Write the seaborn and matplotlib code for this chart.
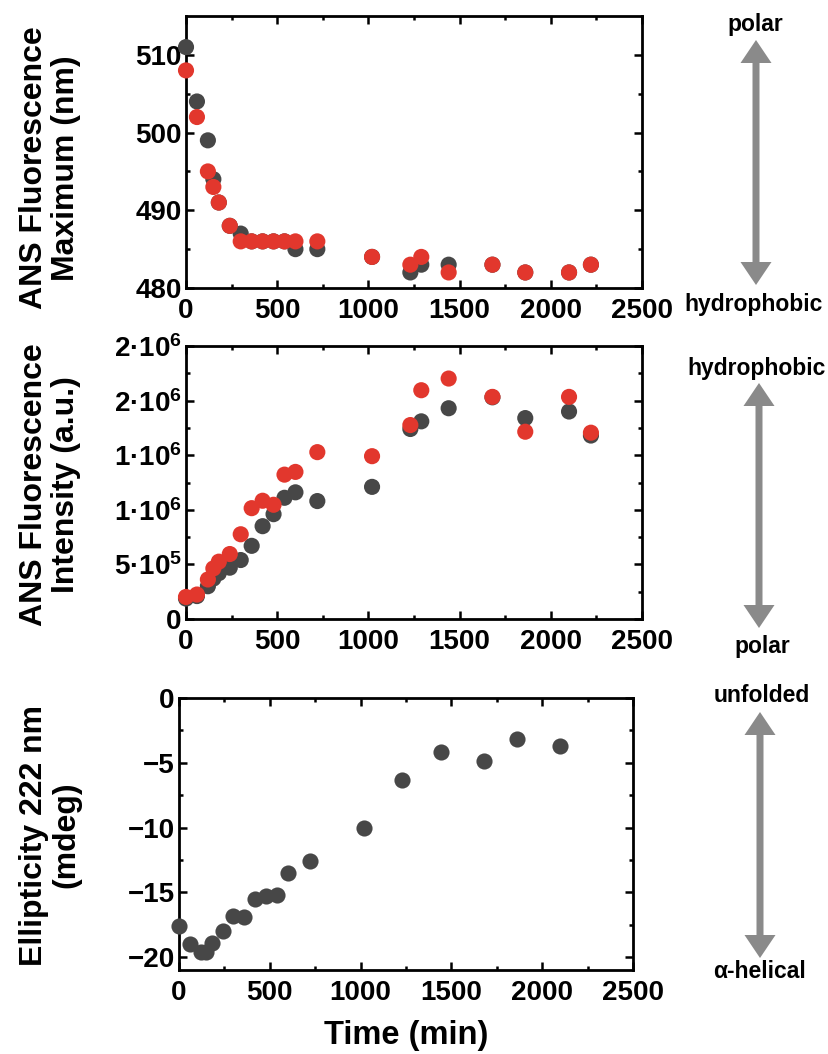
import matplotlib
matplotlib.use("Agg")
import matplotlib.pyplot as plt
import numpy as np
import pandas as pd
import seaborn as sns
from matplotlib.patches import Polygon
from matplotlib.ticker import MultipleLocator, FixedLocator, FixedFormatter

# ANS fluorescence time course (min)
time_ans = [0, 60, 120, 150, 180, 240, 300, 360, 420, 480, 540, 600, 720,
            1020, 1230, 1290, 1440, 1680, 1860, 2100, 2220]
max_gray = [511, 504, 499, 494, 491, 488, 487, 486, 486, 486, 486, 485, 485,
            484, 482, 483, 483, 483, 482, 482, 483]
max_red = [508, 502, 495, 493, 491, 488, 486, 486, 486, 486, 486, 486, 486,
           484, 483, 484, 482, 483, 482, 482, 483]
int_gray = [1.87e5, 2.10e5, 3.00e5, 3.70e5, 4.20e5, 4.70e5, 5.40e5, 6.70e5,
            8.50e5, 9.60e5, 1.11e6, 1.16e6, 1.08e6, 1.21e6, 1.74e6, 1.81e6,
            1.93e6, 2.03e6, 1.84e6, 1.90e6, 1.68e6]
int_red = [2.02e5, 2.24e5, 3.62e5, 4.63e5, 5.25e5, 5.95e5, 7.76e5, 1.015e6,
           1.083e6, 1.046e6, 1.322e6, 1.347e6, 1.528e6, 1.491e6, 1.776e6,
           2.095e6, 2.202e6, 2.034e6, 1.715e6, 2.034e6, 1.706e6]

# CD ellipticity at 222 nm
time_cd = [0, 60, 120, 150, 180, 240, 300, 360, 420, 480, 540, 600, 720,
           1020, 1230, 1440, 1680, 1860, 2100]
ellip = [-17.6, -19.0, -19.6, -19.6, -18.9, -18.0, -16.8, -16.9, -15.5,
         -15.3, -15.2, -13.5, -12.6, -10.0, -6.3, -4.2, -4.9, -3.2, -3.7]

int_ticks = [0, 5e5, 1e6, 1.5e6, 2e6, 2.5e6]
int_ticklabels = ["0", "$5·10^{5}$", "$1·10^{6}$", "$1·10^{6}$",
                  "$2·10^{6}$", "$2·10^{6}$"]

GRAY = "#474747"
RED = "#e2372d"
ARROW = "#8a8a8a"

sns.set_theme(style="ticks")
plt.rcParams["font.family"] = ["Liberation Sans", "DejaVu Sans"]
plt.rcParams["font.weight"] = "bold"
plt.rcParams["axes.labelweight"] = "bold"
plt.rcParams["mathtext.default"] = "regular"
for k in ["text.color", "axes.labelcolor", "xtick.color", "ytick.color",
          "axes.edgecolor"]:
    plt.rcParams[k] = "black"

W, H = 829, 1054
fig = plt.figure(figsize=(W / 100, H / 100), dpi=100)

# pixel-space layer for the side arrows and their captions
ov = fig.add_axes([0, 0, 1, 1])
ov.set_xlim(0, W)
ov.set_ylim(H, 0)
ov.axis("off")


def px_axes(l, t, r, b):
    return fig.add_axes([l / W, 1 - b / H, (r - l) / W, (b - t) / H])


ax1 = px_axes(186, 16, 642, 288)
ax2 = px_axes(186, 346, 642, 619)
ax3 = px_axes(179, 698, 633, 970)


def long_form(t, a, b):
    return pd.DataFrame({
        "time": list(t) + list(t),
        "value": list(a) + list(b),
        "series": ["gray"] * len(t) + ["red"] * len(t),
    })


MS = 135
pal = {"gray": GRAY, "red": RED}
sns.scatterplot(data=long_form(time_ans, max_gray, max_red), x="time",
                y="value", hue="series", palette=pal, s=MS, linewidth=0,
                legend=False, ax=ax1, clip_on=False, zorder=3)
sns.scatterplot(data=long_form(time_ans, int_gray, int_red), x="time",
                y="value", hue="series", palette=pal, s=MS, linewidth=0,
                legend=False, ax=ax2, clip_on=False, zorder=3)
sns.scatterplot(x=time_cd, y=ellip, color=GRAY, s=MS, linewidth=0,
                legend=False, ax=ax3, clip_on=False, zorder=3)

ax1.set_ylim(480, 515)
ax1.yaxis.set_major_locator(FixedLocator([480, 490, 500, 510]))
ax1.yaxis.set_minor_locator(FixedLocator([485, 495, 505]))

ax2.set_ylim(0, 2.5e6)
ax2.yaxis.set_major_locator(FixedLocator(int_ticks))
ax2.yaxis.set_major_formatter(FixedFormatter(int_ticklabels))
ax2.yaxis.set_minor_locator(MultipleLocator(2.5e5))

ax3.set_ylim(-21, 0)
ax3.yaxis.set_major_locator(MultipleLocator(5))
ax3.yaxis.set_minor_locator(FixedLocator([-17.5, -12.5, -7.5, -2.5]))

for ax in (ax1, ax2, ax3):
    ax.set_xlim(0, 2500)
    ax.xaxis.set_major_locator(MultipleLocator(500))
    ax.xaxis.set_minor_locator(MultipleLocator(250))
    ax.tick_params(which="both", direction="in", top=True, right=True,
                   width=1.8, labelsize=20)
    ax.tick_params(which="major", length=6)
    ax.tick_params(which="minor", length=3)
    ax.tick_params(axis="y", pad=3)
    ax.tick_params(axis="x", pad=7)
    for s in ax.spines.values():
        s.set_linewidth(2.0)
        s.set_color("black")
    ax.set_xlabel("")
    for lab in ax.get_xticklabels() + ax.get_yticklabels():
        lab.set_fontweight("bold")

ylab_kw = dict(fontsize=23, fontweight="bold", va="center", ha="center",
               linespacing=1.1)
ax1.set_ylabel("ANS Fluorescence\nMaximum (nm)", **ylab_kw)
ax1.yaxis.set_label_coords((50 - 186) / 456, (288 - 168) / 272)
ax2.set_ylabel("ANS Fluorescence\nIntensity (a.u.)", **ylab_kw)
ax2.yaxis.set_label_coords((50 - 186) / 456, (619 - 485) / 273)
ax3.set_ylabel("Ellipticity 222 nm\n(mdeg)", **ylab_kw)
ax3.yaxis.set_label_coords((50 - 179) / 454, (970 - 835) / 272)
ax3.set_xlabel("Time (min)", fontsize=23.5, fontweight="bold", labelpad=10)


def double_arrow(x, top, bottom, shaft=7, head_w=31, head_l=23):
    sw, hw = shaft / 2, head_w / 2
    pts = [(x, top), (x + hw, top + head_l), (x + sw, top + head_l),
           (x + sw, bottom - head_l), (x + hw, bottom - head_l),
           (x, bottom), (x - hw, bottom - head_l), (x - sw, bottom - head_l),
           (x - sw, top + head_l), (x - hw, top + head_l)]
    ov.add_patch(Polygon(pts, closed=True, facecolor=ARROW, edgecolor="none"))


double_arrow(756, 40, 285)
double_arrow(759, 383, 628)
double_arrow(760, 712, 958)

side_kw = dict(fontsize=16.5, fontweight="bold", ha="center", va="center")
ov.text(755, 25, "polar", **side_kw)
ov.text(754, 305, "hydrophobic", **side_kw)
ov.text(757, 369, "hydrophobic", **side_kw)
ov.text(762, 646, "polar", **side_kw)
ov.text(762, 696, "unfolded", **side_kw)
ov.text(760, 972, "α-helical", **side_kw)

fig.savefig("out.png", dpi=100)
